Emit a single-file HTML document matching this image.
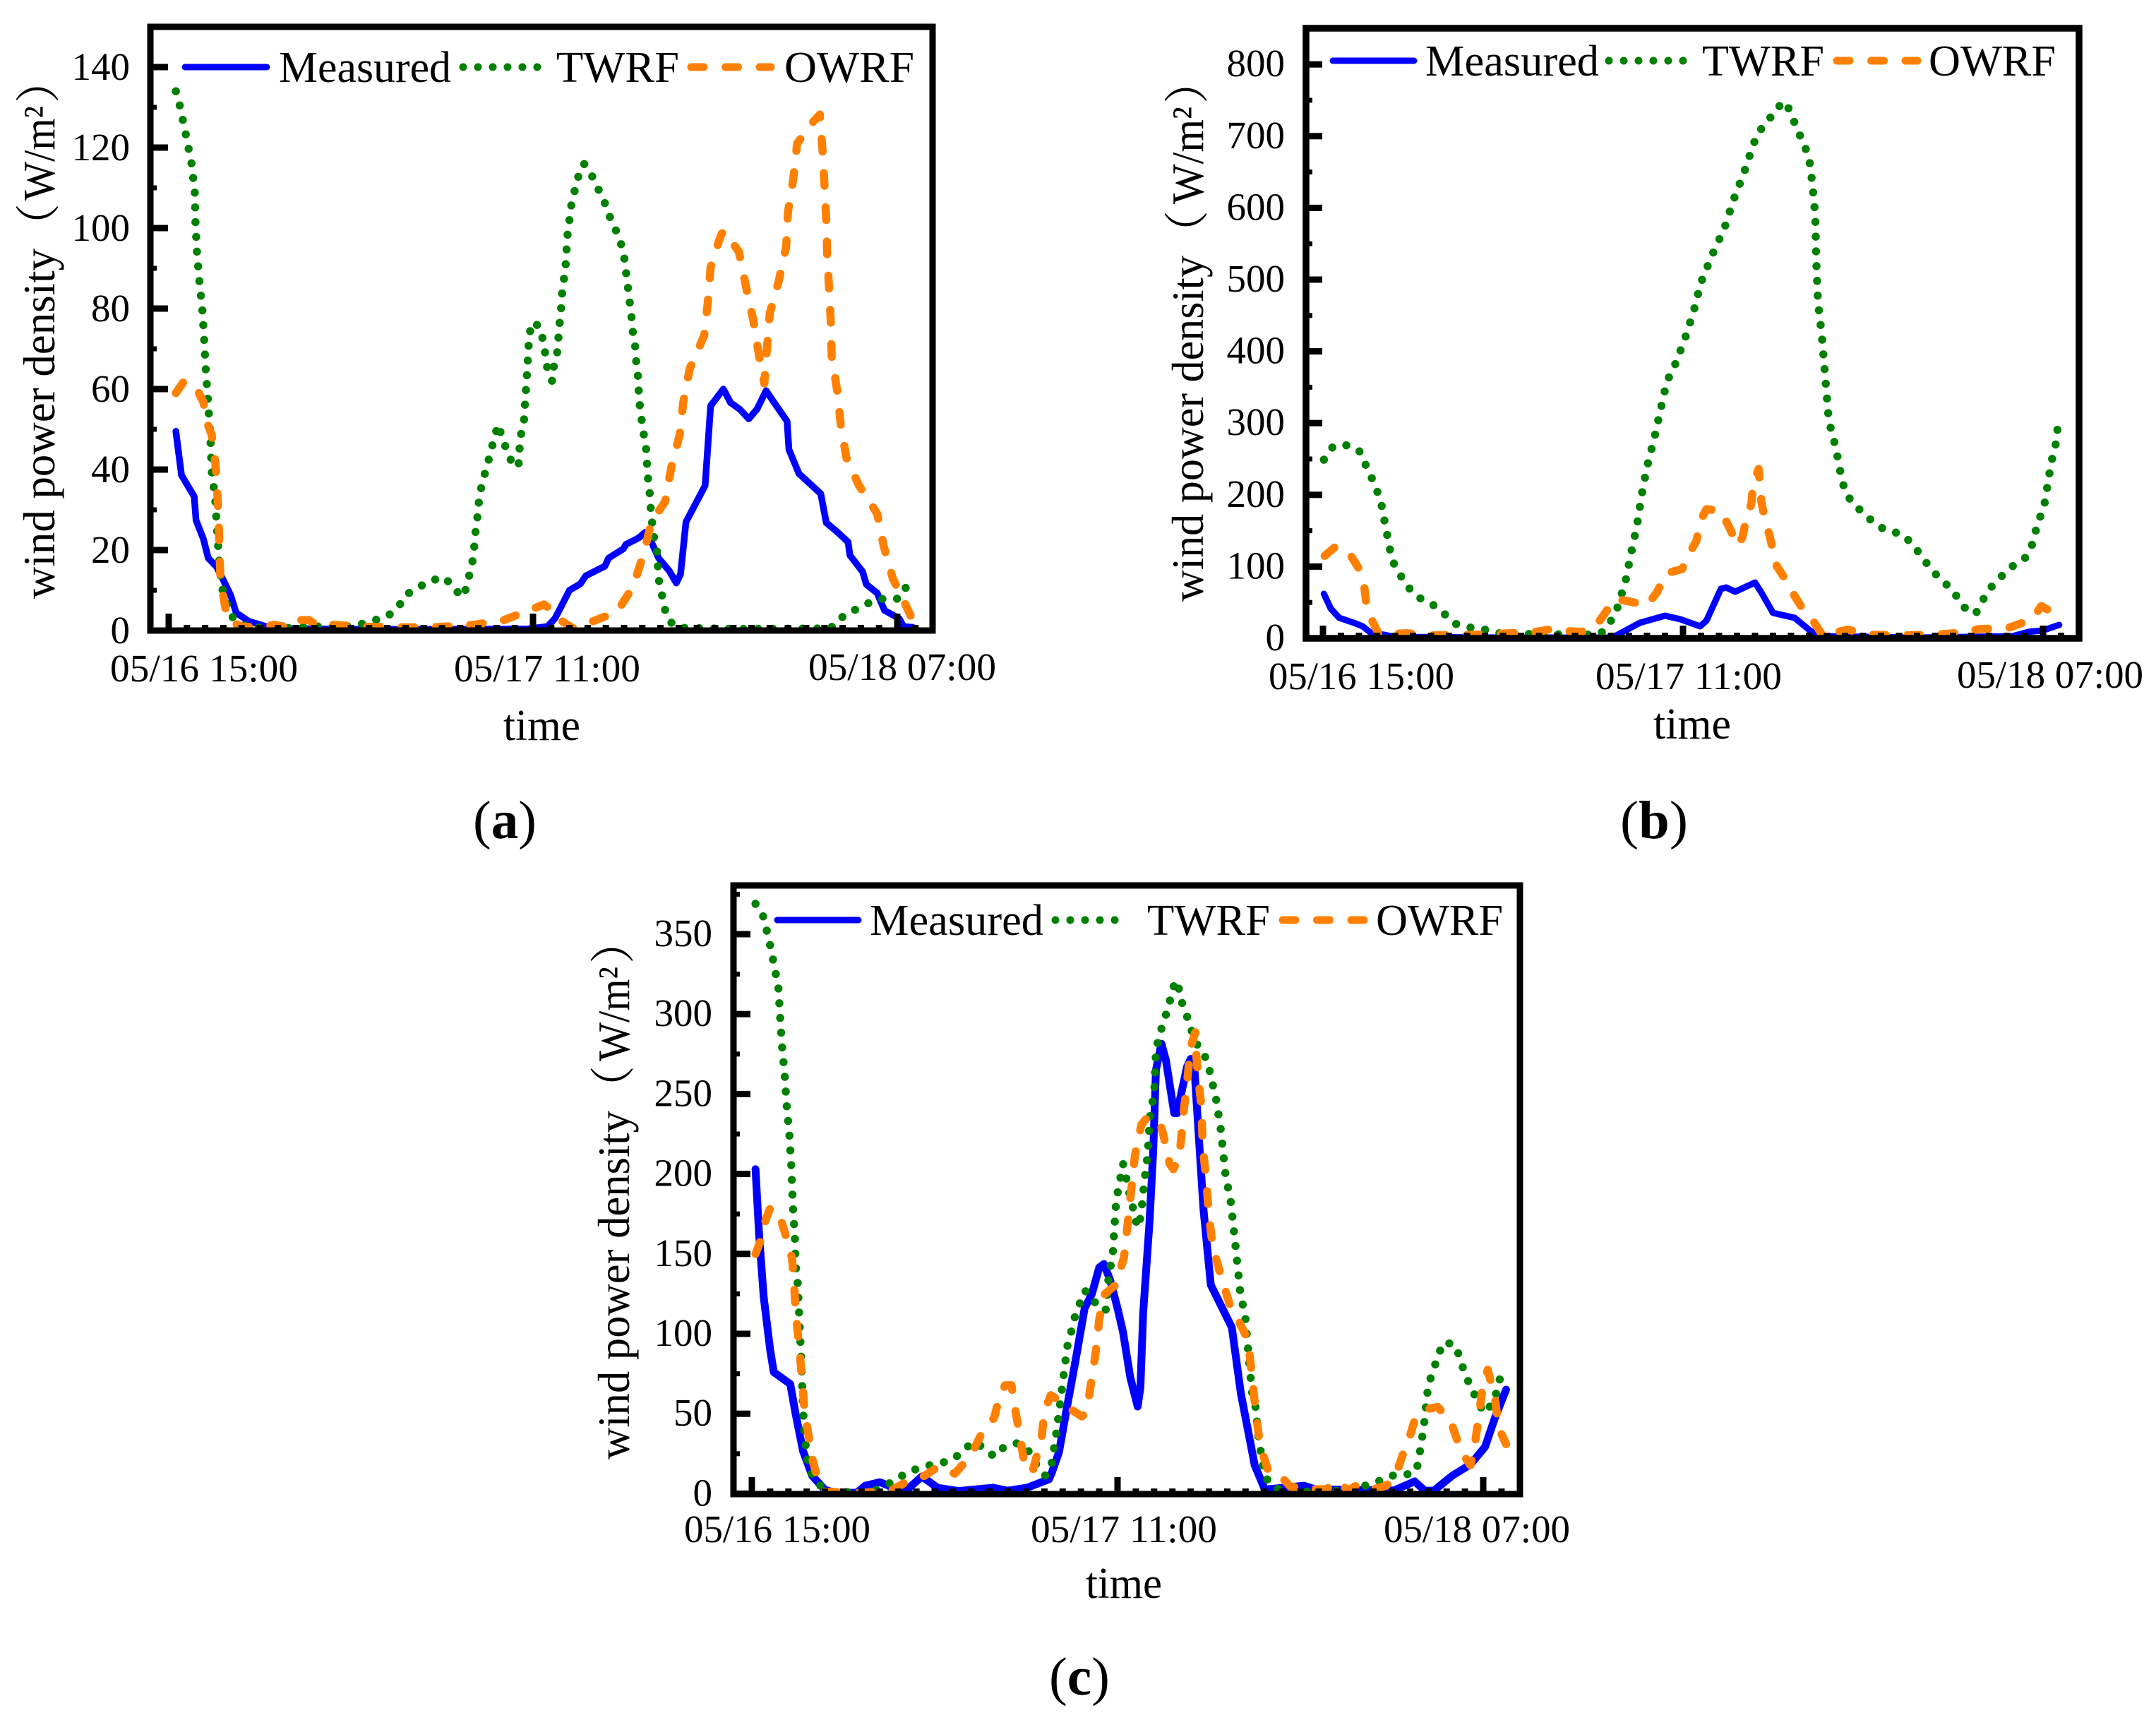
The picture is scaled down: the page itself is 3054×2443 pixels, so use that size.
<!DOCTYPE html>
<html lang="en">
<head>
<meta charset="utf-8">
<title>Wind power density comparison</title>
<style>
html,body{margin:0;padding:0;background:#fff}
svg{display:block}
text{font-family:"Liberation Serif","Noto Serif CJK SC",serif;fill:#000}
.tick{font-size:55px}
.leg{font-size:62px}
.ttl{font-size:64px}
.cap{font-size:76px}
</style>
</head>
<body>
<svg id="figure" xmlns="http://www.w3.org/2000/svg" width="3054" height="2443" viewBox="0 0 3054 2443">
<rect x="0" y="0" width="3054" height="2443" fill="#fff"/>

<g id="panel-a">
  <g id="a-series"></g>
  <rect x="213" y="38" width="1108" height="855" fill="none" stroke="#000" stroke-width="9"/>
  <g id="a-ticks"></g>
  <g class="tick">
    <text x="156" y="965" textLength="266" lengthAdjust="spacingAndGlyphs">05/16 15:00</text>
    <text x="643" y="965" textLength="264" lengthAdjust="spacingAndGlyphs">05/17 11:00</text>
    <text x="1145" y="963" textLength="266" lengthAdjust="spacingAndGlyphs">05/18 07:00</text>
  </g>
  <text class="leg" x="713" y="1048" textLength="109" lengthAdjust="spacingAndGlyphs">time</text>
  <g class="ttl">
    <text transform="translate(77,848) rotate(-90)" textLength="496" lengthAdjust="spacingAndGlyphs">wind power density</text>
    <text transform="translate(77,352) rotate(-90)">（</text>
    <text transform="translate(77,284) rotate(-90)" textLength="134" lengthAdjust="spacingAndGlyphs">W/m²</text>
    <text transform="translate(77,146) rotate(-90)">）</text>
  </g>
  <g>
    <line x1="262" y1="95" x2="378" y2="95" stroke="#0000ff" stroke-width="9" stroke-linecap="round"/>
    <text class="leg" x="395" y="116" textLength="244" lengthAdjust="spacingAndGlyphs">Measured</text>
    <line x1="656" y1="95" x2="770" y2="95" stroke="#008000" stroke-width="11" stroke-linecap="round" stroke-dasharray="0 21"/>
    <text class="leg" x="788" y="116" textLength="174" lengthAdjust="spacingAndGlyphs">TWRF</text>
    <line x1="979" y1="95" x2="1092" y2="95" stroke="#ff8000" stroke-width="11" stroke-linecap="round" stroke-dasharray="18 30.5"/>
    <text class="leg" x="1111" y="116" textLength="184" lengthAdjust="spacingAndGlyphs">OWRF</text>
  </g>
  <text class="cap" x="670" y="1187" textLength="90" lengthAdjust="spacingAndGlyphs">(<tspan font-weight="bold">a</tspan>)</text>
</g>

<g id="panel-b">
  <g id="b-series"></g>
  <rect x="1850" y="40" width="1095" height="864" fill="none" stroke="#000" stroke-width="9.5"/>
  <g id="b-ticks"></g>
  <g class="tick">
    <text x="1797" y="976" textLength="263" lengthAdjust="spacingAndGlyphs">05/16 15:00</text>
    <text x="2260" y="976" textLength="264" lengthAdjust="spacingAndGlyphs">05/17 11:00</text>
    <text x="2772" y="974" textLength="264" lengthAdjust="spacingAndGlyphs">05/18 07:00</text>
  </g>
  <text class="leg" x="2342" y="1046" textLength="110" lengthAdjust="spacingAndGlyphs">time</text>
  <g class="ttl">
    <text transform="translate(1704,852) rotate(-90)" textLength="490" lengthAdjust="spacingAndGlyphs">wind power density</text>
    <text transform="translate(1704,362) rotate(-90)">（</text>
    <text transform="translate(1704,289) rotate(-90)" textLength="138" lengthAdjust="spacingAndGlyphs">W/m²</text>
    <text transform="translate(1704,147) rotate(-90)">）</text>
  </g>
  <g>
    <line x1="1888" y1="86" x2="2003" y2="86" stroke="#0000ff" stroke-width="9" stroke-linecap="round"/>
    <text class="leg" x="2019" y="107" textLength="246" lengthAdjust="spacingAndGlyphs">Measured</text>
    <line x1="2279" y1="86" x2="2385" y2="86" stroke="#008000" stroke-width="11" stroke-linecap="round" stroke-dasharray="0 21"/>
    <text class="leg" x="2411" y="107" textLength="173" lengthAdjust="spacingAndGlyphs">TWRF</text>
    <line x1="2602" y1="86" x2="2716" y2="86" stroke="#ff8000" stroke-width="11" stroke-linecap="round" stroke-dasharray="18 30.5"/>
    <text class="leg" x="2732" y="107" textLength="180" lengthAdjust="spacingAndGlyphs">OWRF</text>
  </g>
  <text class="cap" x="2295" y="1187" textLength="96" lengthAdjust="spacingAndGlyphs">(<tspan font-weight="bold">b</tspan>)</text>
</g>

<g id="panel-c">
  <g id="c-series"></g>
  <rect x="1039" y="1254" width="1114" height="862" fill="none" stroke="#000" stroke-width="9"/>
  <g id="c-ticks"></g>
  <g class="tick">
    <text x="969" y="2184" textLength="264" lengthAdjust="spacingAndGlyphs">05/16 15:00</text>
    <text x="1460" y="2184" textLength="264" lengthAdjust="spacingAndGlyphs">05/17 11:00</text>
    <text x="1960" y="2184" textLength="264" lengthAdjust="spacingAndGlyphs">05/18 07:00</text>
  </g>
  <text class="leg" x="1538" y="2263" textLength="108" lengthAdjust="spacingAndGlyphs">time</text>
  <g class="ttl">
    <text transform="translate(891,2067) rotate(-90)" textLength="494" lengthAdjust="spacingAndGlyphs">wind power density</text>
    <text transform="translate(891,1573) rotate(-90)">（</text>
    <text transform="translate(891,1503) rotate(-90)" textLength="134" lengthAdjust="spacingAndGlyphs">W/m²</text>
    <text transform="translate(891,1365) rotate(-90)">）</text>
  </g>
  <g>
    <line x1="1101" y1="1303" x2="1216" y2="1303" stroke="#0000ff" stroke-width="9" stroke-linecap="round"/>
    <text class="leg" x="1232" y="1324" textLength="246" lengthAdjust="spacingAndGlyphs">Measured</text>
    <line x1="1495" y1="1303" x2="1600" y2="1303" stroke="#008000" stroke-width="11" stroke-linecap="round" stroke-dasharray="0 21"/>
    <text class="leg" x="1625" y="1324" textLength="174" lengthAdjust="spacingAndGlyphs">TWRF</text>
    <line x1="1817" y1="1303" x2="1932" y2="1303" stroke="#ff8000" stroke-width="11" stroke-linecap="round" stroke-dasharray="18 30.5"/>
    <text class="leg" x="1949" y="1324" textLength="180" lengthAdjust="spacingAndGlyphs">OWRF</text>
  </g>
  <text class="cap" x="1486" y="2400" textLength="86" lengthAdjust="spacingAndGlyphs">(<tspan font-weight="bold">c</tspan>)</text>
</g>
</svg>

<script>
// Panel (a) data: hours since 05/16 15:00, wind power density in W/m2
const aMeasuredHours=[.39,.7,1.4,1.5,1.9,2.17,2.63,3,3.4,3.7,4.4,5.35,6.4,10,15,19.7,20.8,21.2,21.55,22,22.6,22.9,23.95,24.15,24.96,25.1,25.8,26.16,26.5,26.9,27.5,27.87,28.1,28.4,29.45,29.75,30.45,30.85,31.35,31.85,32.3,32.8,33.25,33.95,34.05,34.6,35.8,36.1,36.7,37.3,37.4,38.1,38.3,38.9,39.3,40.1,40.35,40.85];
const aMeasuredValues=[49.5,38.6,33.3,27.4,22.8,18,15.8,12.5,8.8,4.4,2.3,1,.5,.3,.3,.4,1,3,6,10,11.6,13.6,16,18,20.3,21.4,23,24.4,22,18,14.7,11.8,14,27,36,55.8,60,56.6,55,52.6,55,59.6,56.6,52,45,39,34,26.8,24.5,22,18.7,14.6,11.5,9.3,5,3,1,.8];
const aTwrfHours=[.39,.63,.95,1.25,1.43,1.47,1.55,1.68,1.85,1.95,2.03,2.15,2.3,2.36,2.56,2.65,2.75,2.9,3.37,4,5.5,8.2,9.7,10.4,11.25,12,12.6,13,13.7,14.4,15.2,15.6,16.2,16.4,16.6,16.75,16.8,16.9,17,17.05,17.25,17.45,17.67,17.87,18.1,18.3,18.6,18.87,19.2,19.3,19.5,19.6,19.65,19.7,19.75,19.8,20,20.4,20.55,20.7,20.8,21.05,21.15,21.35,21.4,21.47,21.55,21.6,21.7,21.8,21.9,22,22.1,22.3,22.5,22.8,23.2,23.55,23.9,24.2,24.5,24.8,25,25.1,25.2,25.3,25.4,25.45,25.6,25.65,25.75,25.8,25.85,25.95,26.05,26.2,26.25,26.3,26.4,26.45,26.6,26.8,26.9,27.05,27.2,27.45,27.95,31,36,36.5,37.1,37.8,38.5,39.3,40.1,40.5];
const aTwrfValues=[134,130,123,116,109,101.4,94,87,79.5,72,65,57.5,46.7,39.6,32.4,25,18.6,11,3.9,1.4,.4,1,1,1.4,2.5,3.5,5.8,8.8,10.7,12.5,13.1,10.4,8.4,12,15.4,19,22.8,26.5,30,33.7,37,40.7,44,48,51.2,47.9,44.4,41.4,40.7,47.9,51.8,59,62.5,66,69.8,73.7,76.7,75.3,72,68,64.6,62,65.8,69.5,73,76.7,80.4,84,87.5,91.2,98.6,102,105.6,109.5,113,116,113.3,110,106.8,103,100,96.7,93,89.3,85.6,82,78.4,75,71.2,67.5,63.9,60,56.5,52.8,49.5,45.8,42,38.4,34.7,31,24,20.4,12.8,9.5,5.8,2.5,.7,.4,.5,1,3.9,5.4,7,8,7.9,10.9];
const aOwrfHours=[.39,.85,1.55,1.9,2.1,2.36,2.5,2.6,2.7,2.75,2.8,2.83,2.95,3.1,3.33,4,5,5.8,6.6,7,7.7,8.3,9,10.6,12.7,14.5,16.7,18.4,20,20.6,21.2,21.6,22.25,23,24.6,25.5,26.1,26.5,27.25,27.6,28.05,28.25,28.6,29.4,29.6,29.75,30.3,30.45,31.3,31.7,32.1,32.4,32.7,32.85,33,33.5,33.9,34,34.3,34.5,35.4,35.75,35.9,36,36.1,36.15,36.25,36.35,36.4,36.7,36.9,37.2,37.9,38.2,38.9,39.25,39.75,40.6,40.8];
const aOwrfValues=[59,62,60,56.8,51.7,48.6,43.9,39.6,31.2,26.8,18.4,14,9.8,5.8,2.3,1,.8,1.4,.8,2.6,2.6,.8,1.4,1,.8,.8,1.4,2.6,5.4,6.5,4.6,2.3,.4,1.8,4.6,10.9,19.5,27,32,40.7,48.6,56.8,65,73.3,81.7,90.3,98,99.3,94.2,85.3,77,68.6,61.4,70.4,78.8,87,95.4,104,112.5,121,126.5,128.2,119,111,102,93.7,85.3,76.7,68,59.6,51,43,36,34,29,21,13,5,3];
const aYTicks=[0,20,40,60,80,100,120,140];
const aYMinorTicks=[10,30,50,70,90,110,130];

// Panel (b) data
const bMeasuredHours=[.05,.43,.9,1.73,2.2,2.7,3.4,4,10,16,16.3,17.6,19,19.85,20.95,21.3,22.1,22.4,22.9,24,24.35,25,26.2,27.1,27.8,33,38.3,39.2,40,40.9];
const bMeasuredValues=[62,41.5,28.5,21.6,16.7,6.9,4.9,2,1,1,4,21.6,31.5,26.6,16.7,24.6,68.9,70.9,65,77.8,64,35.4,28.5,9.8,3,1,3,9,11,18.7];
const bTwrfHours=[.05,.55,1.2,2,2.35,2.7,3,3.25,3.4,3.55,3.7,3.9,4.25,4.7,5.3,6.1,6.7,7.4,8.2,9,9.75,11.4,14.6,15.4,15.9,16.3,16.8,17.1,17.45,17.7,18,18.4,18.75,19.1,19.5,20.1,20.6,21,21.6,22.3,22.8,23.4,23.9,24.2,24.75,25.2,25.7,26.05,26.35,26.7,27,27.1,27.2,27.35,27.4,27.5,27.7,27.9,28.1,28.3,28.5,28.8,29,29.4,30,30.6,31.3,32.1,32.7,33.2,33.75,34.25,34.85,35.4,35.85,36.3,36.7,37.1,37.7,38.3,39,39.4,39.6,39.85,40.1,40.35,40.5,40.7,40.8];
const bTwrfValues=[249,267,270,262,243,224,206,186,166,146.6,126,106,90,72,57,47,35,20,15,12,7,6,5,6,20,38.4,78.7,117,158.5,199,239,278.5,318,358,378,417,456.7,496,533.5,571.8,610.7,650,688,705.7,722,739,748,728,709,690,670,650.6,630,589,527.5,466.5,426,365,303,284,264,224,205,189,175,161,150,146,133,116,97.4,83.7,70,52,35.4,36.4,55,70.9,86.6,100.4,112,131,150.6,170,190,229,250,270.7,291];
const bOwrfHours=[.1,.75,1.55,2,2.3,2.4,2.75,3.1,4.7,6,8.6,10.3,11.8,12.5,13.65,14.35,15.15,15.65,16.2,17.1,18,18.55,19.05,19.95,20.3,20.75,20.95,21.3,22.1,22.5,23.05,23.3,23.5,23.8,23.9,24.2,24.35,24.55,24.8,25.2,25.7,26.2,26.7,27.3,27.8,28.2,29.15,30.4,32.3,34.6,35.7,36.4,38.1,39.4,39.9,40.6,41];
const bOwrfValues=[115,129,115,97,70,50,23.6,6,7,4,5,7,8.9,12,10,8.9,16.7,34.4,55,51,46,64,90.5,96.5,116,136,163,180,178,158,129,141,165,188,215.6,236,191,166,143.7,101,81.7,59,39,21.6,2,7,12,5,4,6,9,12.8,14.8,26.6,45,35,22.6];
const bYTicks=[0,100,200,300,400,500,600,700,800];
const bYMinorTicks=[50,150,250,350,450,550,650,750];

// Panel (c) data
const cMeasuredHours=[.2,.4,.65,1,1.2,2.1,2.4,2.8,3.3,4,4.55,5.75,6.2,7,7.5,7.9,8.35,9.3,10.15,11.3,13.2,14,15.05,16.25,16.4,16.8,17.2,17.7,18.2,18.6,19,19.25,19.6,20,20.3,20.7,21.1,21.25,21.4,21.75,21.95,22.1,22.4,22.65,23.1,23.25,23.8,24,24.2,24.4,24.7,25.1,26.25,26.75,27.5,28.05,28.25,30.2,30.8,35.1,36.25,36.8,37.3,38.3,39.3,40.1,40.65,41.25];
const cMeasuredValues=[203,161,123,90,76,68.6,49.4,26.7,11.2,2.4,.6,.6,5,7.2,5,.6,1,10.8,3.7,1.7,3.7,1.9,3.7,9,13,26,52,83,116,125,141.5,143.7,133.6,116,101,72.6,54.5,66.4,113,170,214,265,281.5,271,238,238,267,272,267,231,178,130.6,104,62.4,17.8,2.8,2.8,5,2.8,2,7.7,1.9,1.9,11.2,18.3,29.3,47.7,65.1];
const cTwrfHours=[.2,.6,.8,1,1.15,1.3,1.45,1.55,1.65,1.8,1.9,2.05,2.15,2.25,2.35,2.4,2.5,2.65,2.75,2.85,3,3.2,3.5,4.1,4.9,6.45,7.15,7.8,8.5,9.15,9.95,10.8,11.45,12.05,12.5,13.25,13.8,14.55,15.15,15.55,16.05,16.4,16.65,16.85,17.05,17.25,17.45,17.65,17.9,18.2,18.55,18.9,19.35,19.5,19.75,19.9,20,20.15,20.3,20.45,20.6,20.8,20.95,21.15,21.3,21.45,21.65,21.8,22,22.1,22.25,22.5,22.75,22.95,23.15,23.4,23.55,23.85,24.1,24.4,24.8,25.05,25.4,25.65,25.9,26.2,26.45,26.7,27,27.2,27.35,27.55,27.7,27.95,28.15,28.6,29.45,32.6,34.1,34.95,35.75,36.35,36.5,36.75,37,37.3,37.5,37.9,38.5,38.75,39,39.35,39.7,40.05,40.6,40.8,41];
const cTwrfValues=[369,362,353,343,334.5,325.6,316.6,298,280,261.7,243.5,225,206.5,179,160.7,142.4,133,97,69,41.7,23.3,14.3,7.7,1.2,1.2,.6,4.3,8,13.4,16,18.5,20.3,25.3,32.2,30,23.3,29.3,31.7,26.4,18.5,11.2,19.3,37.7,55.4,73.9,92,100.6,110,118,127,124.3,116.8,114.8,133.6,151.6,179,188,197,206.4,199,190,181.6,172,166.6,176,194,212,240,249,276.5,285.5,294.5,303.4,312,321,314.7,306,297,288,279.7,273,264,246,227.6,200,182,155,127.4,109,82,63.8,54.3,36,17.8,9.4,3.4,1,2,6.8,11.2,11.7,14.3,23.4,41.7,68.6,77.5,86.5,95,92.5,83.7,74.9,66,57.6,50.5,57.6,66.9,75.7];
const cOwrfHours=[.2,.5,.75,1,1.45,1.7,2,2.2,2.3,2.4,2.6,2.75,2.9,3.05,3.2,3.35,3.65,4,5.75,7.5,8.7,9.45,10.2,11.1,11.7,12.2,12.65,13.25,13.5,13.85,14.2,14.45,14.65,14.95,15.35,15.85,15.95,16.15,16.35,16.7,17.55,18.05,18.25,18.45,18.8,19,19.25,19.9,20.35,20.55,20.75,20.95,21.3,21.6,22.3,22.5,22.85,23.05,23.35,23.45,23.6,23.8,24,24.25,24.3,24.4,24.6,24.65,24.85,25,25.2,25.7,26.2,26.5,27.1,27.2,27.4,27.55,27.8,28.25,28.85,29.45,30.4,31.4,32.1,32.6,33.2,34,34.7,35.25,35.65,35.95,36.25,36.85,37.5,38.2,38.6,38.9,39.3,39.5,39.75,40,40.25,40.65,40.85,41.25];
const cOwrfValues=[150,159,171,178.6,176,167.3,156,147,133,112.8,91,70.8,49.4,40,29.3,19.6,7.7,1.2,.6,1.2,9,11.2,17,12.5,20.3,29,39.5,47.4,58.5,67.8,67.8,49.4,36.8,15.9,13.9,35,46,56,61.6,59,52,48.3,50.3,61.6,87.9,109,124.3,130.6,147.7,168,190,211.5,230.7,235,233,224.7,206.4,203,209.6,218.8,237,257,279.5,288.6,275.5,261,241,218.8,196,174,154.8,134.4,116,111,97,89,68.7,52,30,13.9,11.7,4.5,2.8,2.8,7.7,2,6,2.8,5,12.8,26,34.4,46,52.7,54.3,46,32.8,24.5,17.8,27.6,47.7,69.3,77.5,59.4,41,31];
const cYTicks=[0,50,100,150,200,250,300,350];
const cYMinorTicks=[25,75,125,175,225,275,325,375];

const xMajorHours=[0,20,40];
const SVGNS='http://www.w3.org/2000/svg';

function makeAxes(x0,hourWidth,y0,unitHeight){
  return {
    x:function(h){return x0+h*hourWidth;},
    y:function(v){return y0-v*unitHeight;}
  };
}

function drawSeries(layerId,axes,hours,values,color,width,dash,seriesName){
  const n=Math.min(hours.length,values.length);
  let d='';
  for(let i=0;i<n;i++){
    d+=(i?'L':'M')+axes.x(hours[i]).toFixed(1)+' '+axes.y(values[i]).toFixed(1);
  }
  const el=document.createElementNS(SVGNS,'path');
  
  
  el.setAttribute('d',d);
  el.setAttribute('fill','none');
  el.setAttribute('stroke',color);
  el.setAttribute('stroke-width',width);
  el.setAttribute('stroke-linecap','round');
  el.setAttribute('stroke-linejoin','round');
  if(dash){el.setAttribute('stroke-dasharray',dash);}
  document.getElementById(layerId).appendChild(el);
}

function drawTicks(layerId,axes,leftInner,bottomInner,majorYLen,majorXLen,yTicks,yMinor,labelRight,labelOffset){
  const layer=document.getElementById(layerId);
  function addRect(x,y,w,h,name){
    const r=document.createElementNS(SVGNS,'rect');
    
    
    r.setAttribute('x',x);
    r.setAttribute('y',y);
    r.setAttribute('width',w);
    r.setAttribute('height',h);
    r.setAttribute('fill','#000');
    layer.appendChild(r);
  }
  yTicks.forEach(function(v){
    addRect(leftInner,axes.y(v)-4.5,majorYLen,9,'y-major-tick');
    const t=document.createElementNS(SVGNS,'text');
    
    
    t.setAttribute('class','tick');
    t.setAttribute('x',labelRight);
    t.setAttribute('y',axes.y(v)+labelOffset);
    t.setAttribute('text-anchor','end');
    t.textContent=String(v);
    layer.appendChild(t);
  });
  yMinor.forEach(function(v){
    addRect(leftInner,axes.y(v)-3.5,5,7,'y-minor-tick');
  });
  for(let h=0;h<=41;h++){
    if(xMajorHours.indexOf(h)>=0){
      addRect(axes.x(h)-4.5,bottomInner-majorXLen,9,majorXLen,'x-major-tick');
    }else{
      addRect(axes.x(h)-4.5,bottomInner-4,9,4,'x-minor-tick');
    }
  }
}

function drawPanel(prefix,axes,measureWidth,measH,measV,twrfH,twrfV,owrfH,owrfV){
  drawSeries(prefix+'-series',axes,measH,measV,'#0000ff',measureWidth,null,'measured-line');
  drawSeries(prefix+'-series',axes,twrfH,twrfV,'#008000',11.5,'0 20.9','twrf-line');
  drawSeries(prefix+'-series',axes,owrfH,owrfV,'#ff8000',11.5,'18 30.5','owrf-line');
}

const axesA=makeAxes(239,25.8,893,5.7);
drawPanel('a',axesA,9.5,aMeasuredHours,aMeasuredValues,aTwrfHours,aTwrfValues,aOwrfHours,aOwrfValues);
drawTicks('a-ticks',axesA,217,889,21,20,aYTicks,aYMinorTicks,184,18);

const axesB=makeAxes(1874,25.5,904,1.016);
drawPanel('b',axesB,9,bMeasuredHours,bMeasuredValues,bTwrfHours,bTwrfValues,bOwrfHours,bOwrfValues);
drawTicks('b-ticks',axesB,1854,900,19,14,bYTicks,bYMinorTicks,1820,17);

const axesC=makeAxes(1065,25.9,2115.4,2.264);
drawPanel('c',axesC,11,cMeasuredHours,cMeasuredValues,cTwrfHours,cTwrfValues,cOwrfHours,cOwrfValues);
drawTicks('c-ticks',axesC,1043,2112,20,20,cYTicks,cYMinorTicks,1009,17);
</script>
</body>
</html>
